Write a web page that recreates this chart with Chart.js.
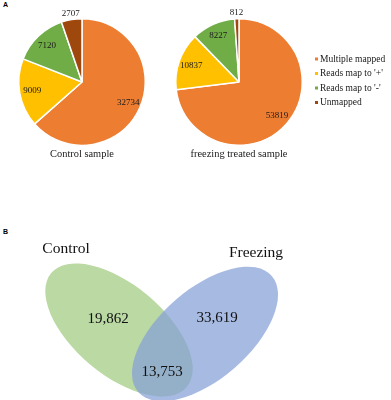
<!DOCTYPE html>
<html>
<head>
<meta charset="utf-8">
<script src="https://cdn.jsdelivr.net/npm/chart.js@4.4.1/dist/chart.umd.min.js"></script>
<style>
  html, body { margin: 0; padding: 0; background: #fff; }
  #wrap { position: relative; width: 391px; height: 400px; overflow: hidden; }
  canvas { position: absolute; }
  .tag { position: absolute; font: bold 7px "Liberation Sans", Arial, sans-serif; color: #000; }
</style>
</head>
<body>
<div id="wrap">
  <div class="tag" style="left:3px; top:1px;">A</div>
  <div class="tag" style="left:3px; top:228px;">B</div>
  <canvas id="pie1" width="170" height="170" style="left:0; top:0; width:170px; height:170px;"></canvas>
  <canvas id="pie2" width="231" height="170" style="left:160px; top:0; width:231px; height:170px;"></canvas>
  <canvas id="venn" width="391" height="200" style="left:0; top:200px; width:391px; height:200px;"></canvas>
</div>
<script>
// ---- data ----
const categories = ['Multiple mapped', "Reads map to '+'", "Reads map to '-'", 'Unmapped'];
const controlValues = [32734, 9009, 7120, 2707];
const freezingValues = [53819, 10837, 8227, 812];
const pieTitles = ['Control sample', 'freezing treated sample'];
const vennSets = ['Control', 'Freezing'];
const vennCounts = [19862, 33619, 13753]; // Control only, Freezing only, shared

const sliceColors = ['#ED7D31', '#FFC000', '#70AD47', '#9E480E'];
const SERIF = '"Liberation Serif", "Times New Roman", serif';

// value labels on pie slices
const sliceLabels = {
  id: 'sliceLabels',
  afterDatasetsDraw(chart) {
    const ctx = chart.ctx;
    const meta = chart.getDatasetMeta(0);
    const vals = chart.data.datasets[0].data;
    ctx.save();
    ctx.font = '9px ' + SERIF;
    ctx.fillStyle = '#1a1a1a';
    ctx.textAlign = 'center';
    ctx.textBaseline = 'middle';
    meta.data.forEach((arc, i) => {
      const p = arc.getProps(['x', 'y', 'startAngle', 'endAngle', 'outerRadius'], true);
      const mid = (p.startAngle + p.endAngle) / 2;
      const frac = (p.endAngle - p.startAngle) / (2 * Math.PI);
      const r = frac < 0.08 ? p.outerRadius * 1.09 : p.outerRadius * 0.8;
      ctx.fillText(String(vals[i]), p.x + Math.cos(mid) * r, p.y + Math.sin(mid) * r);
    });
    ctx.restore();
  }
};

// caption under each pie
const pieCaption = {
  id: 'pieCaption',
  afterDraw(chart, args, opts) {
    const ctx = chart.ctx;
    const arc = chart.getDatasetMeta(0).data[0];
    ctx.save();
    ctx.font = '10.4px ' + SERIF;
    ctx.fillStyle = '#1a1a1a';
    ctx.textAlign = 'center';
    ctx.textBaseline = 'middle';
    ctx.fillText(opts.text, arc.x, arc.y + arc.outerRadius + 9);
    ctx.restore();
  }
};

// small legend to the right of the second pie
const sideLegend = {
  id: 'sideLegend',
  afterDraw(chart, args, opts) {
    if (!opts.show) return;
    const ctx = chart.ctx;
    const colors = chart.data.datasets[0].backgroundColor;
    ctx.save();
    ctx.font = '9.5px ' + SERIF;
    ctx.textBaseline = 'middle';
    chart.data.labels.forEach((lab, i) => {
      const y = opts.y + i * opts.step;
      ctx.fillStyle = colors[i];
      ctx.fillRect(opts.x, y - 1.5, 3, 3);
      ctx.fillStyle = '#1a1a1a';
      ctx.fillText(lab, opts.x + 5, y);
    });
    ctx.restore();
  }
};

function makePie(id, values, title, padding, legend) {
  return new Chart(document.getElementById(id), {
    type: 'pie',
    data: {
      labels: categories,
      datasets: [{
        data: values,
        backgroundColor: sliceColors,
        borderColor: '#ffffff',
        borderWidth: 1.5
      }]
    },
    options: {
      responsive: false,
      animation: false,
      layout: { padding },
      plugins: {
        legend: { display: false },
        tooltip: { enabled: false },
        pieCaption: { text: title },
        sideLegend: legend
      }
    },
    plugins: [sliceLabels, pieCaption, sideLegend]
  });
}

makePie('pie1', controlValues, pieTitles[0], { left: 18, top: 18, right: 24, bottom: 24 }, { show: false });
makePie('pie2', freezingValues, pieTitles[1], { left: 15, top: 18, right: 88, bottom: 24 },
  { show: true, x: 155, y: 59, step: 14.5 });

// ---- Venn diagram ----
const vennDraw = {
  id: 'vennDraw',
  beforeDatasetsDraw(chart, args, opts) {
    const ctx = chart.ctx;
    const xs = chart.scales.x, ys = chart.scales.y;
    ctx.save();
    opts.ellipses.forEach(e => {
      const cx = xs.getPixelForValue(e.cx), cy = ys.getPixelForValue(e.cy);
      const rx = xs.getPixelForValue(e.cx + e.a) - cx;
      const ry = Math.abs(ys.getPixelForValue(e.cy + e.b) - cy);
      ctx.beginPath();
      ctx.ellipse(cx, cy, rx, ry, e.rot * Math.PI / 180, 0, 2 * Math.PI);
      ctx.fillStyle = e.color;
      ctx.fill();
    });
    ctx.fillStyle = '#111';
    ctx.textAlign = 'center';
    ctx.textBaseline = 'middle';
    ctx.font = '15.5px ' + SERIF;
    opts.setLabels.forEach((p, i) => {
      ctx.fillText(vennSets[i], xs.getPixelForValue(p[0]), ys.getPixelForValue(p[1]));
    });
    ctx.font = '15px ' + SERIF;
    opts.countLabels.forEach((p, i) => {
      ctx.fillText(vennCounts[i].toLocaleString('en-US'), xs.getPixelForValue(p[0]), ys.getPixelForValue(p[1]));
    });
    ctx.restore();
  }
};

new Chart(document.getElementById('venn'), {
  type: 'scatter',
  data: { datasets: [{ data: [] }] },
  options: {
    responsive: false,
    animation: false,
    layout: { padding: 0 },
    scales: {
      x: { type: 'linear', min: 0, max: 391, display: false },
      y: { type: 'linear', min: 200, max: 400, reverse: true, display: false }
    },
    plugins: {
      legend: { display: false },
      tooltip: { enabled: false },
      vennDraw: {
        ellipses: [
          { cx: 119, cy: 330, a: 88.5, b: 45, rot: 40, color: 'rgb(186,217,163)' },
          { cx: 205, cy: 334, a: 88.5, b: 45, rot: -41, color: 'rgba(133,160,215,0.72)' }
        ],
        setLabels: [[66, 249], [256, 253]],
        countLabels: [[108, 319], [217, 318], [162, 372]]
      }
    }
  },
  plugins: [vennDraw]
});
</script>
</body>
</html>
